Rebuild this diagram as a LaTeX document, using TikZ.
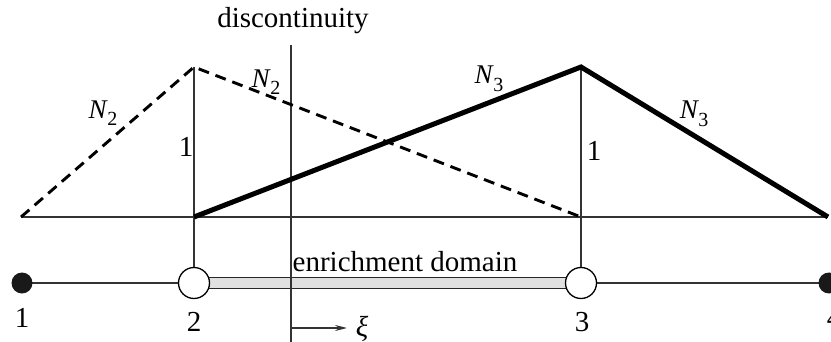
\documentclass[tikz,border=0pt]{standalone}
\usepackage{fontspec}
\setmainfont{Liberation Serif}
\usetikzlibrary{arrows.meta}
\newcommand{\nsub}[1]{N\kern0.5pt\raisebox{-0.28em}{\upshape\fontsize{20}{22}\selectfont #1}}
\begin{document}
\begin{tikzpicture}[x=1pt,y=-1pt,
  thinline/.style={line width=1.3pt,draw=black!80},
  dashline/.style={line width=2.9pt,dash pattern=on 11pt off 7pt},
  thickline/.style={line width=5pt,line join=miter},
  opennode/.style={circle,draw,line width=1.3pt,fill=white,minimum size=31pt,inner sep=0pt},
  fullnode/.style={circle,fill=black!90,minimum size=21pt,inner sep=0pt},
  lbl/.style={font=\fontsize{29}{32}\selectfont,inner sep=0pt},
  nlbl/.style={font=\fontsize{27}{30}\selectfont\itshape,inner sep=0pt}]
\useasboundingbox (0,0) rectangle (831,342);
% coordinates of shape functions
\coordinate (a0) at (21,217);
\coordinate (p2) at (194,67);
\coordinate (b2) at (194,217);
\coordinate (p3) at (581,67);
\coordinate (b3) at (581,217);
\coordinate (a4) at (828,217);
\coordinate (dtop) at (291,45);
\coordinate (dbot) at (291,342);
% axis
\draw[thinline] (a0) -- (a4);
\node[lbl] (dl) at (293,21) {discontinuity};
% bottom mesh
\coordinate (m1) at (22,283);
\coordinate (m2) at (194,283);
\coordinate (m3) at (581,283);
\coordinate (m4) at (829,283);
\draw[thinline] (m1) -- (m4);
\filldraw[fill=black!12,draw=black!85,line width=1.3pt] (194,277.5) rectangle (581,288.5);
% discontinuity
\draw[thinline] (dtop) -- (dbot);
\node[fullnode] (n1) at (m1) {};
\node[fullnode] (n4) at (m4) {};
\node[opennode] (n2) at (m2) {};
\node[opennode] (n3) at (m3) {};
% verticals
\draw[thinline] (p2) -- (n2.north);
\draw[thinline] (p3) -- (n3.north);
% N2
\draw[dashline] (a0) -- (p2) -- (b3);
% N3
\draw[thickline] (b2) -- (p3) -- (a4);
% labels
\node[nlbl] (l1) at (103,113) {\nsub{2}};
\node[nlbl] (l2) at (266,82) {\nsub{2}};
\node[nlbl] (l3) at (489,79) {\nsub{3}};
\node[nlbl] (l4) at (694,114) {\nsub{3}};
\node[lbl] (o1) at (186,147) {1};
\node[lbl] (o2) at (594,151) {1};
\node[lbl] (ed) at (405,262) {enrichment domain};
\node[lbl] (t1) at (22,318) {1};
\node[lbl] (t2) at (194,322) {2};
\node[lbl] (t3) at (582,322) {3};
\node[lbl] (t4) at (834,318) {4};
\coordinate (xs) at (291,328);
\coordinate (xe) at (347,328);
\draw[thinline,-{Stealth[length=12pt,width=6pt]}] (xs) -- (xe);
\node[lbl,font=\fontsize{29}{32}\selectfont\itshape] (xi) at (362,329) {ξ};
\end{tikzpicture}
\end{document}
